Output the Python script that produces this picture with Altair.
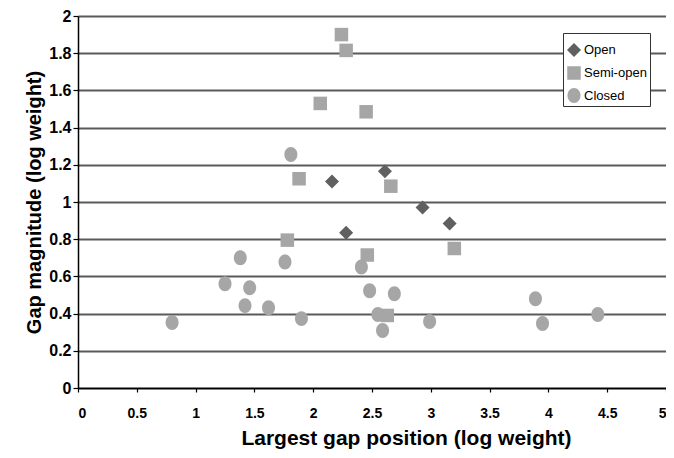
import altair as alt
import pandas as pd

series = ["Open", "Semi-open", "Closed"]

open_x = [2.16, 2.61, 2.28, 2.93, 3.16]
open_y = [1.11, 1.165, 0.835, 0.97, 0.885]

semi_x = [2.24, 2.28, 2.06, 2.45, 1.88, 2.66, 1.78, 3.20, 2.46, 2.63]
semi_y = [1.90, 1.815, 1.53, 1.485, 1.125, 1.085, 0.795, 0.75, 0.715, 0.39]

closed_x = [1.81, 0.80, 1.38, 1.76, 2.41, 1.25, 1.46, 1.42, 1.62, 1.90,
            2.48, 2.69, 2.55, 2.59, 2.99, 3.89, 3.95, 4.42]
closed_y = [1.255, 0.352, 0.70, 0.677, 0.651, 0.56, 0.539, 0.443, 0.432, 0.373,
            0.523, 0.507, 0.395, 0.309, 0.357, 0.48, 0.347, 0.395]

x_ticks = [0, 0.5, 1, 1.5, 2, 2.5, 3, 3.5, 4, 4.5, 5]
y_ticks = [0, 0.2, 0.4, 0.6, 0.8, 1, 1.2, 1.4, 1.6, 1.8, 2]

rows = []
for i, (name, xs, ys) in enumerate([("Open", open_x, open_y),
                                    ("Semi-open", semi_x, semi_y),
                                    ("Closed", closed_x, closed_y)]):
    for x, y in zip(xs, ys):
        rows.append({"series": name, "x": x, "y": y, "k": i})
df = pd.DataFrame(rows)

ellipse = "M0,-1.15 A1,1.15 0 1,1 0,1.15 A1,1.15 0 1,1 0,-1.15 Z"

FONT = "Liberation Sans"

legend = alt.Legend(
    title=" ", titleFontSize=6, titlePadding=0,
    orient="none", legendX=485, legendY=17,
    fillColor="white", strokeColor="#333333", padding=3,
    labelFont=FONT, labelFontSize=13, labelColor="black",
    symbolSize=100, rowPadding=8, labelOffset=2,
)

chart = alt.Chart(df).mark_point(filled=True, opacity=1, strokeWidth=0).encode(
    x=alt.X("x:Q",
            scale=alt.Scale(domain=[0, 5], nice=False),
            axis=alt.Axis(values=x_ticks, format="~g", grid=False,
                          title="Largest gap position (log weight)",
                          labelFontSize=14, titleFontSize=21,
                          tickSize=4, labelPadding=14, titlePadding=7,
                          titleX=328)),
    y=alt.Y("y:Q",
            scale=alt.Scale(domain=[0, 2], nice=False),
            axis=alt.Axis(values=y_ticks, format="~g", grid=True,
                          title="Gap magnitude (log weight)",
                          labelFontSize=16, titleFontSize=20,
                          tickSize=5, labelPadding=2, titlePadding=4)),
    shape=alt.Shape("series:N",
                    scale=alt.Scale(domain=series, range=["diamond", "square", ellipse]),
                    legend=legend),
    color=alt.Color("series:N",
                    scale=alt.Scale(domain=series, range=["#606060", "#a6a6a6", "#a6a6a6"]),
                    legend=legend),
    size=alt.Size("series:N",
                  scale=alt.Scale(domain=series, range=[196, 169, 144]),
                  legend=None),
    order=alt.Order("k:Q"),
).properties(
    width=588, height=372,
    autosize=alt.AutoSizeParams(type="none"),
    padding={"left": 70, "top": 8, "right": 0, "bottom": 62},
).configure_view(
    stroke=None
).configure_axis(
    labelFont=FONT, labelFontWeight="bold", labelColor="black",
    titleFont=FONT, titleFontWeight="bold", titleColor="black",
    domainColor="black", domainWidth=1.5, tickColor="black", tickWidth=1.2,
    gridColor="#5a5a5a", gridWidth=1.8, gridOpacity=1,
)

chart.save("out.html", embed_options={"renderer": "svg", "actions": False})
